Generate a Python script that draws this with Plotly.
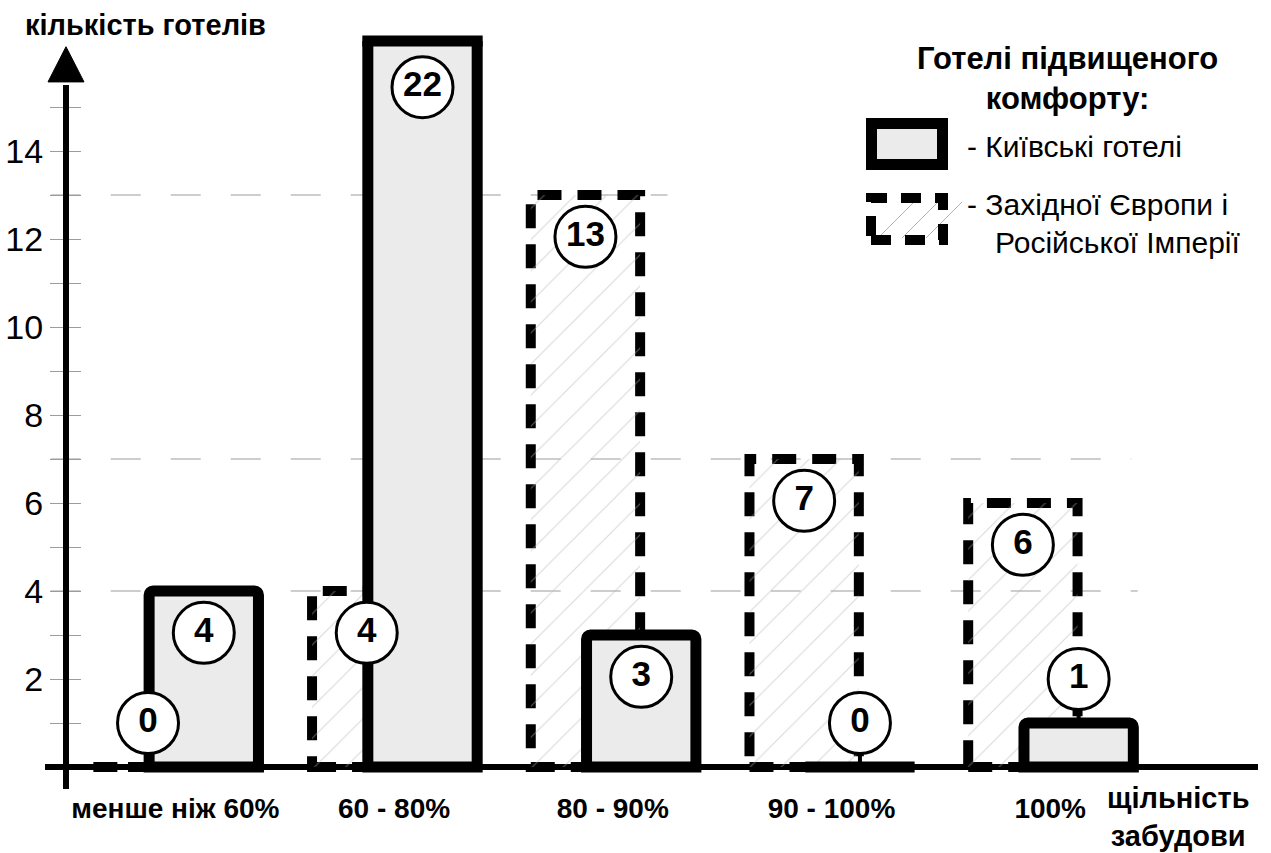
import numpy as np
import plotly.graph_objects as go

# density groups and hotel counts
categories = ['менше ніж 60%', '60 - 80%', '80 - 90%', '90 - 100%', '100%']
kyiv_hotels = [4, 22, 3, 0, 1]
western_hotels = [0, 4, 13, 7, 6]

y_tick_values = list(range(1, 16))
y_tick_labels = [str(v) if v % 2 == 0 else '' for v in y_tick_values]
grid_levels = [4, 7, 13]

y_title = 'кількість готелів'
x_title = 'щільність<br>забудови'
legend_title = 'Готелі підвищеного<br>комфорту:'
kyiv_label = '- Київські готелі'
western_label = ['- Західної Європи і', 'Російської Імперії']

# page / plot geometry
W, H = 1271, 853
ML, MR, MT, MB = 45, 13, 41, 64
X_RANGE = [-0.096, 5.45]
Y_RANGE = [-0.5, 16.5]
BAR_W = 0.5
WEST_SHIFT = -0.125
KYIV_SHIFT = 0.13
VIS_TOP = 16.4
FONT = 'Liberation Sans'

pos = np.arange(len(categories)) + 0.5
west_x = pos + WEST_SHIFT
kyiv_x = pos + KYIV_SHIFT

xu = (X_RANGE[1] - X_RANGE[0]) / (W - ML - MR)   # data units per pixel
axis_pos = (0 - X_RANGE[0]) / (X_RANGE[1] - X_RANGE[0])


def px(x):
    return (x - ML) / (W - ML - MR)


def py(y):
    return (H - MB - y) / (H - MT - MB)


def label_y(v):
    return min(v, VIS_TOP) - 0.95 if v >= 3 else v + 1.0


fig = go.Figure()

# hatched fill of the western bars (outline is drawn as dashed shapes)
fig.add_trace(go.Bar(
    x=pos, y=western_hotels, width=BAR_W, offset=WEST_SHIFT - BAR_W / 2,
    marker=dict(color='rgba(0,0,0,0)', line_width=0,
                pattern=dict(shape='/', fgcolor='#b3b3b3', bgcolor='rgba(0,0,0,0)',
                             size=22, solidity=0.05)),
    hoverinfo='skip', showlegend=False,
))

fig.add_trace(go.Bar(
    x=pos, y=kyiv_hotels, width=BAR_W, offset=KYIV_SHIFT - BAR_W / 2,
    marker=dict(color='#ebebeb', line=dict(color='black', width=11), cornerradius=4),
    hoverinfo='skip', showlegend=False,
))

# stems under circles that sit above short kyiv bars
sx, sy = [], []
for x, v in zip(kyiv_x, kyiv_hotels):
    if v < 3:
        sx += [x, x, None]
        sy += [v, label_y(v), None]
fig.add_trace(go.Scatter(x=sx, y=sy, mode='lines', line=dict(color='black', width=4),
                         hoverinfo='skip', showlegend=False))

# circled value labels
lx = list(west_x) + list(kyiv_x)
lv = western_hotels + kyiv_hotels
fig.add_trace(go.Scatter(
    x=lx, y=[label_y(v) for v in lv], mode='markers+text',
    text=[str(v) for v in lv], textposition='middle center',
    textfont=dict(family=FONT, size=35, color='black', weight='bold'),
    marker=dict(size=61, color='white', line=dict(color='black', width=3)),
    cliponaxis=False, hoverinfo='skip', showlegend=False,
))

# dummy trace so the tick-only overlay axis is drawn
fig.add_trace(go.Scatter(x=[None], y=[None], yaxis='y2', showlegend=False, hoverinfo='skip'))

shapes = []

# dashed grid lines
grid_end = {4: 4.9, 7: 4.87, 13: 2.75}
for g in grid_levels:
    shapes.append(dict(type='line', xref='x', yref='y', x0=-0.07, x1=grid_end[g], y0=g, y1=g,
                       line=dict(color='#9c9c9c', width=1.2, dash='30px,30px'), layer='below'))

# dashed outlines of western bars
for x, v in zip(west_x, western_hotels):
    shapes.append(dict(type='rect', xref='x', yref='y', x0=x - BAR_W / 2, x1=x + BAR_W / 2,
                       y0=0, y1=v, line=dict(color='black', width=10, dash='24px,16px'),
                       fillcolor='rgba(0,0,0,0)', layer='below'))

# top edge of kyiv bars that run off the chart
for x, v in zip(kyiv_x, kyiv_hotels):
    if v > Y_RANGE[1]:
        shapes.append(dict(type='line', xref='x', yref='paper',
                           x0=x - BAR_W / 2 - 5.5 * xu, x1=x + BAR_W / 2 + 5.5 * xu, y0=1, y1=1,
                           line=dict(color='black', width=11), layer='above'))

# y axis line with arrow head
shapes.append(dict(type='line', xref='x', yref='y', x0=0, x1=0, y0=Y_RANGE[0], y1=15.5,
                   line=dict(color='black', width=6), layer='above'))
tri_w = 18 * xu
shapes.append(dict(type='path', xref='x', yref='y',
                   path=f'M {-tri_w},15.57 L {tri_w},15.57 L 0,16.37 Z',
                   fillcolor='black', line=dict(color='black', width=1), layer='above'))

# legend symbols
shapes.append(dict(type='rect', xref='paper', yref='paper',
                   x0=px(871.5), x1=px(942.5), y0=py(164.5), y1=py(123.5),
                   fillcolor='#ebebeb', line=dict(color='black', width=11)))
for k in range(3):
    x0 = 878 + k * 24
    shapes.append(dict(type='line', xref='paper', yref='paper',
                       x0=px(x0), x1=px(x0 + 36), y0=py(238), y1=py(202),
                       line=dict(color='#b3b3b3', width=1)))
shapes.append(dict(type='rect', xref='paper', yref='paper',
                   x0=px(871), x1=px(943), y0=py(240), y1=py(198),
                   fillcolor='rgba(0,0,0,0)', line=dict(color='black', width=10, dash='20px,14px')))

annotations = [
    dict(text=y_title, x=px(23), y=py(25), xanchor='left', yanchor='middle',
         font=dict(family=FONT, size=29, color='black', weight='bold')),
    dict(text=x_title, x=px(1178), y=py(817), xanchor='center', yanchor='middle',
         font=dict(family=FONT, size=29, color='black', weight='bold')),
    dict(text=legend_title, x=px(1067), y=py(79), xanchor='center', yanchor='middle',
         font=dict(family=FONT, size=31, color='black', weight='bold')),
    dict(text=kyiv_label, x=px(965), y=py(146), xanchor='left', yanchor='middle',
         font=dict(family=FONT, size=30, color='black')),
    dict(text=western_label[0], x=px(965), y=py(204), xanchor='left', yanchor='middle',
         font=dict(family=FONT, size=30, color='black')),
    dict(text=western_label[1], x=px(993), y=py(243), xanchor='left', yanchor='middle',
         font=dict(family=FONT, size=30, color='black')),
]
for a in annotations:
    a.update(xref='paper', yref='paper', showarrow=False)

fig.update_layout(
    width=W, height=H, autosize=False,
    margin=dict(l=ML, r=MR, t=MT, b=MB, pad=0, autoexpand=False),
    paper_bgcolor='white', plot_bgcolor='white',
    barmode='overlay', showlegend=False,
    xaxis=dict(range=X_RANGE, tickvals=pos, ticktext=categories, ticks='', automargin=False,
               showgrid=False, zeroline=False, showline=False,
               tickfont=dict(family=FONT, size=28, color='black', weight='bold')),
    yaxis=dict(range=Y_RANGE, anchor='free', position=axis_pos, side='left', automargin=False,
               tickvals=y_tick_values, ticktext=y_tick_labels,
               ticks='outside', ticklen=16, tickcolor='#9c9c9c', tickwidth=1.3,
               showgrid=False, showline=False,
               zeroline=True, zerolinecolor='black', zerolinewidth=6,
               tickfont=dict(family=FONT, size=34, color='black')),
    yaxis2=dict(range=Y_RANGE, overlaying='y', anchor='free', position=axis_pos, side='left',
                automargin=False,
                tickvals=y_tick_values, ticks='inside', ticklen=14, tickcolor='#9c9c9c',
                tickwidth=1.3, showticklabels=False, showgrid=False, zeroline=False, showline=False),
    shapes=shapes,
    annotations=annotations,
)

# drop the browser's default page margin so the figure sits at the window corner
fig.write_html('out.html', config={'displayModeBar': False},
               post_script="document.body.style.margin = '0';")
